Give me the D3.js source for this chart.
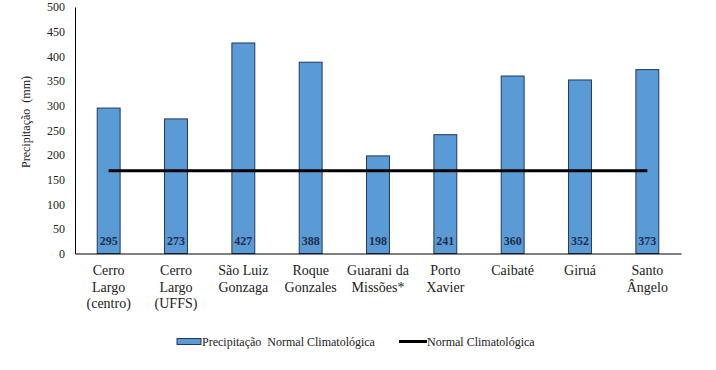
<!DOCTYPE html>
<html>
<head>
<meta charset="utf-8">
<script src="https://cdn.jsdelivr.net/npm/d3@7"></script>
<style>
body { margin: 0; background: #fff; }
</style>
</head>
<body>
<svg id="chart" width="716" height="370"></svg>
<script>
// estações
var stations = [
	['Cerro', 'Largo', '(centro)'],
	['Cerro', 'Largo', '(UFFS)'],
	['São Luiz', 'Gonzaga'],
	['Roque', 'Gonzales'],
	['Guarani da', 'Missões*'],
	['Porto', 'Xavier'],
	['Caibaté'],
	['Giruá'],
	['Santo', 'Ângelo']
];
var precip = [295, 273, 427, 388, 198, 241, 360, 352, 373];
var normal = [168, 168, 168, 168, 168, 168, 168, 168, 168];
var yTicks = [0, 50, 100, 150, 200, 250, 300, 350, 400, 450, 500];
var legendLabels = ['Precipitação  Normal Climatológica', 'Normal Climatológica'];

var FONT = '"Liberation Serif", "Times New Roman", Tinos, "DejaVu Serif", serif';

var svg = d3.select('#chart').style('font-family', FONT);
var plotLeft = 75, plotRight = 681, plotTop = 7, plotBottom = 253.5;

var idx = d3.range(stations.length);
var x = d3.scaleBand().domain(idx).range([plotLeft, plotRight]).paddingInner(0.66).paddingOuter(0.33);
var y = d3.scaleLinear().domain([0, 500]).range([plotBottom, plotTop]);

// eixo y
var yAxis = svg.append('g')
	.attr('transform', 'translate(' + plotLeft + ',0)')
	.call(d3.axisLeft(y).tickValues(yTicks).tickSize(0).tickPadding(10));
yAxis.attr('font-family', null);
yAxis.select('.domain').attr('stroke', '#000').attr('stroke-width', 1);
yAxis.selectAll('text').attr('font-size', 12).attr('fill', '#222').style('font-family', FONT);

svg.append('text')
	.attr('transform', 'translate(30,122) rotate(-90)')
	.attr('text-anchor', 'middle')
	.attr('font-size', 12)
	.attr('fill', '#222')
	.style('font-family', FONT)
	.attr('xml:space', 'preserve')
	.text('Precipitação  (mm)');

// barras
svg.append('g').selectAll('rect')
	.data(precip)
	.enter().append('rect')
	.attr('x', (d, i) => x(i))
	.attr('y', d => y(d))
	.attr('width', x.bandwidth())
	.attr('height', d => y(0) - y(d))
	.attr('fill', '#5b9bd5')
	.attr('stroke', '#1f3864')
	.attr('stroke-width', 1);

// valores
svg.append('g').selectAll('text')
	.data(precip)
	.enter().append('text')
	.attr('x', (d, i) => x(i) + x.bandwidth() / 2)
	.attr('y', y(0) - 8.5)
	.attr('text-anchor', 'middle')
	.attr('font-size', 12)
	.attr('font-weight', 'bold')
	.attr('fill', '#1f2d4f')
	.style('font-family', FONT)
	.text(d => d);

// eixo x
var xAxis = svg.append('g')
	.attr('transform', 'translate(0,' + plotBottom + ')')
	.call(d3.axisBottom(x).tickSize(0).tickFormat(''));
xAxis.select('.domain').attr('stroke', '#000').attr('stroke-width', 1);

var labels = svg.append('g').selectAll('text')
	.data(stations)
	.enter().append('text')
	.attr('x', (d, i) => x(i) + x.bandwidth() / 2)
	.attr('y', 275)
	.attr('text-anchor', 'middle')
	.attr('font-size', 14)
	.attr('fill', '#222')
	.style('font-family', FONT);
labels.selectAll('tspan')
	.data(d => d)
	.enter().append('tspan')
	.attr('x', function () { return d3.select(this.parentNode).attr('x'); })
	.attr('dy', (d, j) => j === 0 ? 0 : 16.5)
	.text(d => d);

// linha normal
var line = d3.line().x((d, i) => x(i) + x.bandwidth() / 2).y(d => y(d));
svg.append('path')
	.datum(normal)
	.attr('d', line)
	.attr('fill', 'none')
	.attr('stroke', '#000')
	.attr('stroke-width', 3);

// legenda
var lg = svg.append('g').style('font-family', FONT);
lg.append('rect')
	.attr('x', 177).attr('y', 338.5).attr('width', 24).attr('height', 6)
	.attr('fill', '#5b9bd5').attr('stroke', '#1f3864').attr('stroke-width', 1);
lg.append('text')
	.attr('x', 202).attr('y', 346)
	.attr('font-size', 12).attr('fill', '#222')
	.attr('xml:space', 'preserve')
	.text(legendLabels[0]);
lg.append('line')
	.attr('x1', 399).attr('x2', 427).attr('y1', 341.5).attr('y2', 341.5)
	.attr('stroke', '#000').attr('stroke-width', 3);
lg.append('text')
	.attr('x', 427).attr('y', 346)
	.attr('font-size', 12).attr('fill', '#222')
	.text(legendLabels[1]);
</script>
</body>
</html>
